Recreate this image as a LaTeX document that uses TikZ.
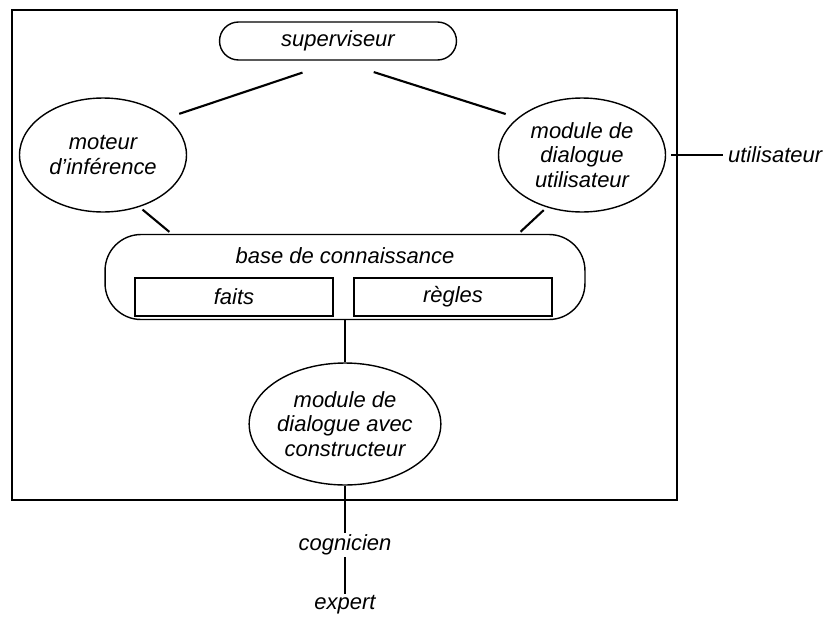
\documentclass[tikz,border=0pt]{standalone}
\usepackage{fontspec}
\setmainfont{Liberation Sans}
\usetikzlibrary{shapes,positioning,fit,calc}

\begin{document}
\begin{tikzpicture}[
    x=0.02cm, y=-0.02cm,
    every node/.style={font=\fontsize{12.5}{14}\selectfont\itshape},
    pill/.style={rectangle, draw, line width=0.8pt, rounded corners=0.38cm, minimum width=4.74cm, minimum height=0.76cm},
    bulle/.style={ellipse, draw, line width=0.8pt, minimum width=3.34cm, minimum height=2.28cm, align=center, inner sep=0pt},
    kbase/.style={rectangle, draw, line width=0.8pt, rounded corners=0.72cm, minimum width=9.6cm, minimum height=1.7cm},
    casier/.style={rectangle, draw, line width=0.8pt, minimum width=3.96cm, minimum height=0.76cm},
    lien/.style={line width=1.2pt},
    fil/.style={line width=0.9pt},
    acteur/.style={inner sep=1pt}
]
    \useasboundingbox (0,0) rectangle (831,622);
    \node[draw, line width=0.8pt, minimum width=13.3cm, minimum height=9.8cm] (cadre) at (344.5,255) {};

    \node[pill] (sup) at (338,41) {superviseur};
    \node[bulle] (moteur) at (103,155) {moteur\\d'inférence};
    \node[bulle] (dialu) at (582,155) {module de\\dialogue\\utilisateur};
    \node[kbase] (bc) at (345,277) {};
    \node (bctitre) at ([yshift=-0.44cm]bc.north) {base de connaissance};
    \node[casier] (faits) at (234,297) {faits};
    \node[casier] (regles) at (453,297) {règles};
    \node[bulle, minimum width=3.3cm, minimum height=2.44cm] (dialc) at (345,424) {module de\\dialogue avec\\constructeur};

    \node[acteur, anchor=west] (util) at (726,155) {utilisateur};
    \node[acteur] (cogn) at (345,545) {cognicien};
    \node[acteur] (expert) at (345,605) {expert};

    \draw[lien, shorten <=0.75cm, shorten >=0.25cm] (sup.south) -- (moteur.30);
    \draw[lien, shorten <=0.75cm, shorten >=0.25cm] (sup.south) -- (dialu.150);
    \draw[lien, shorten <=0.08cm, shorten >=0.06cm] (moteur.-55) -- (bc.166);
    \draw[lien, shorten <=0.08cm, shorten >=0.06cm] (dialu.-124) -- (bc.14);
    \draw[fil] (bc.south) -- (dialc.north);
    \draw[fil] (dialc.south) -- (cogn.north);
    \draw[fil] (cogn.south) -- (expert.north);
    \draw[fil, shorten <=0.1cm, shorten >=0.06cm] (dialu.east) -- (util.west);
\end{tikzpicture}
\end{document}
